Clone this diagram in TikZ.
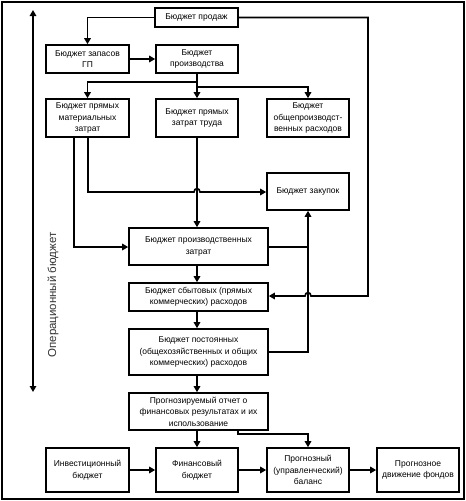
\documentclass[tikz,border=0pt]{standalone}
\usepackage{fontspec}
\setmainfont{Liberation Sans}
\usetikzlibrary{arrows.meta}
\begin{document}
\begin{tikzpicture}[x=1pt,y=-1pt,
  box/.style={draw,line width=1.6pt,align=center,inner sep=1pt,font=\fontsize{8.5}{11.5}\selectfont},
  conn/.style={line width=1.6pt},
  arr/.style={conn,-{Triangle[length=6pt,width=6.5pt]}},
  darr/.style={conn,{Triangle[length=6pt,width=6.5pt]}-{Triangle[length=6pt,width=6.5pt]}}]
\useasboundingbox (0,0) rectangle (466,501);
\draw[line width=2pt] (1.5,1.5) rectangle (463.5,498.5);
% boxes
\node[box,minimum width=83pt,minimum height=19pt] (prod) at (196.5,17.5) {Бюджет продаж};
\node[box,minimum width=83pt,minimum height=28pt] (zapas) at (87.5,59) {Бюджет запасов\\ГП};
\node[box,minimum width=82pt,minimum height=28pt] (proizv) at (197,59) {Бюджет\\производства};
\node[box,minimum width=83pt,minimum height=38pt] (mat) at (87.5,118) {Бюджет прямых\\материальных\\затрат};
\node[box,minimum width=82pt,minimum height=38pt] (trud) at (197,118) {Бюджет прямых\\затрат труда};
\node[box,minimum width=82pt,minimum height=38pt] (obsh) at (308,118) {Бюджет\\общепроизводст-\\венных расходов};
\node[box,minimum width=82pt,minimum height=37pt] (zakup) at (308,191.5) {Бюджет закупок};
\node[box,minimum width=139pt,minimum height=37pt] (pzatr) at (198.5,246.5) {Бюджет производственных\\затрат};
\node[box,minimum width=139pt,minimum height=28pt] (sbyt) at (198.5,297) {Бюджет сбытовых (прямых\\коммерческих) расходов};
\node[box,minimum width=139pt,minimum height=46pt] (post) at (198.5,352) {Бюджет постоянных\\(общехозяйственных и общих\\коммерческих) расходов};
\node[box,minimum width=139pt,minimum height=37pt] (prog) at (198.5,411.5) {Прогнозируемый отчет о\\финансовых результатах и их\\использование};
\node[box,minimum width=83pt,minimum height=44pt] (invest) at (87.5,470) {Инвестиционный\\бюджет};
\node[box,minimum width=82pt,minimum height=44pt] (fin) at (197,470) {Финансовый\\бюджет};
\node[box,minimum width=82pt,minimum height=44pt] (bal) at (308,470) {Прогнозный\\(управленческий)\\баланс};
\node[box,minimum width=82pt,minimum height=44pt] (dvizh) at (418,470) {Прогнозное\\движение фондов};
% operational budget axis
\coordinate (axt) at (33,10);
\coordinate (axb) at (33,392);
\draw[darr] (axt) -- (axb);
\node[rotate=90,font=\fontsize{11.5}{13}\selectfont,text=black!80] (oplabel) at (53,295) {Операционный бюджет};
% helper coordinates
\coordinate (rr) at (368,296);
\coordinate (j1) at (197,82);
\coordinate (j2) at (197,87);
\coordinate (m1) at (74,137);
\coordinate (m1b) at (74,247);
\coordinate (m2) at (88,137);
\coordinate (m2b) at (88,192);
\coordinate (vz) at (308,352);
\coordinate (pb) at (238,430);
\coordinate (pb2) at (238,434);
% connectors
\draw[arr] (prod.west) -| (zapas.north);
\draw[arr] (prod.east) -| (rr) -- (311,296) .. controls (311,291.5) and (305,291.5) .. (305,296) -- (sbyt.east |- rr);
\draw[arr] (zapas.east) -- (proizv.west);
\draw[arr] (proizv.south) -- (trud.north);
\draw[arr] (j1) -| (mat.north);
\draw[arr] (j2) -| (obsh.north);
\draw[arr] (m1) -- (m1b) -- (pzatr.west |- m1b);
\draw[arr] (m2) -- (m2b) -- (194,192) .. controls (194,187.5) and (200,187.5) .. (200,192) -- (zakup.west |- m2b);
\draw[arr] (trud.south) -- (trud.south |- pzatr.north);
\draw[arr] (post.east -| pzatr.east) -- (vz) -- (vz |- zakup.south);
\draw[conn] (pzatr.east |- m1b) -- (vz |- m1b);
\draw[arr] (trud.south |- pzatr.south) -- (trud.south |- sbyt.north);
\draw[arr] (trud.south |- sbyt.south) -- (trud.south |- post.north);
\draw[arr] (trud.south |- post.south) -- (trud.south |- prog.north);
\draw[arr] (trud.south |- prog.south) -- (fin.north);
\draw[arr] (pb) -- (pb2) -| (bal.north);
\draw[arr] (invest.east) -- (fin.west);
\draw[arr] (fin.east) -- (bal.west);
\draw[arr] (bal.east) -- (dvizh.west);
\end{tikzpicture}
\end{document}
